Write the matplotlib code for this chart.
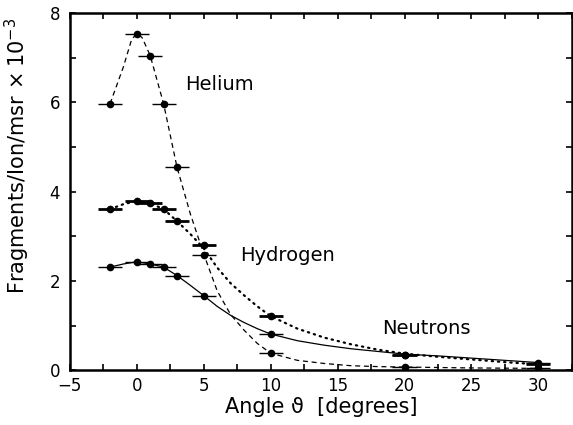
import matplotlib
matplotlib.use('Agg')
import matplotlib.pyplot as plt
from matplotlib.ticker import MultipleLocator

# measured points (angle in degrees, yield x 1e-3)
angle = [-2, 0, 1, 2, 3, 5, 10, 20, 30]
angle_err = [0.9, 0.9, 0.9, 0.9, 0.9, 0.9, 0.9, 0.9, 0.9]
helium = [5.97, 7.53, 7.05, 5.97, 4.55, 2.58, 0.38, 0.08, 0.04]
hydrogen = [3.61, 3.78, 3.74, 3.61, 3.34, 2.80, 1.21, 0.35, 0.13]
neutrons = [2.31, 2.43, 2.38, 2.31, 2.10, 1.67, 0.81, 0.35, 0.16]

# guide curves
he_curve_x = [-2, -1, -0.4, 0, 0.4, 1, 2, 3, 4, 5, 6, 7, 8, 9, 10, 12, 14, 16, 18, 20, 25, 30]
he_curve_y = [5.97, 6.8, 7.4, 7.55, 7.45, 7.05, 5.97, 4.55, 3.5, 2.6, 1.78, 1.25, 0.9, 0.6, 0.38,
              0.22, 0.15, 0.1, 0.08, 0.07, 0.05, 0.04]
curve_x = [-2, -1, 0, 1, 2, 3, 4, 5, 6, 7, 8, 9, 10, 12, 14, 16, 18, 20, 22.5, 25, 27.5, 30]
h_curve_y = [3.61, 3.72, 3.79, 3.74, 3.61, 3.34, 3.05, 2.73, 2.3, 1.95, 1.68, 1.43, 1.21,
             0.93, 0.73, 0.58, 0.46, 0.37, 0.3, 0.24, 0.18, 0.13]
n_curve_y = [2.31, 2.38, 2.43, 2.38, 2.31, 2.12, 1.9, 1.67, 1.43, 1.23, 1.07, 0.93, 0.81,
             0.66, 0.56, 0.48, 0.42, 0.36, 0.32, 0.27, 0.22, 0.17]

fig = plt.figure(figsize=(5.73, 4.25), dpi=100)
ax = fig.add_axes([0.122, 0.129, 0.876, 0.840])

# curves
ax.plot(he_curve_x, he_curve_y, color='black', lw=0.9, dashes=(4, 3))
ax.plot(curve_x, h_curve_y, color='black', lw=1.6, linestyle=(0, (0.6, 2.2)), dash_capstyle='round')
ax.plot(curve_x, n_curve_y, color='black', lw=0.9)

# data with horizontal error bars
ax.errorbar(angle, helium, xerr=angle_err, fmt='o', color='black', ms=4.5,
            elinewidth=1.0, capsize=0)
ax.errorbar(angle, hydrogen, xerr=angle_err, fmt='o', color='black', ms=4.5,
            elinewidth=2.0, capsize=0)
ax.errorbar(angle, neutrons, xerr=angle_err, fmt='o', color='black', ms=4.5,
            elinewidth=1.0, capsize=0)

ax.text(3.6, 6.4, 'Helium', fontsize=14, va='center')
ax.text(7.7, 2.56, 'Hydrogen', fontsize=14, va='center')
ax.text(18.3, 0.93, 'Neutrons', fontsize=14, va='center')

ax.set_xlim(-5, 32.5)
ax.set_ylim(0, 8)
ax.xaxis.set_major_locator(MultipleLocator(5))
ax.xaxis.set_minor_locator(MultipleLocator(2.5))
ax.yaxis.set_major_locator(MultipleLocator(2))
ax.yaxis.set_minor_locator(MultipleLocator(1))
ax.tick_params(which='both', direction='in', top=True, right=True, length=4, width=1.2,
               labelsize=12)
ax.tick_params(axis='y', pad=7)
ax.tick_params(axis='x', pad=5)
for s in ax.spines.values():
    s.set_linewidth(1.8)

ax.set_xlabel('Angle ϑ  [degrees]', fontsize=15, labelpad=1)
ax.set_ylabel('Fragments/Ion/msr$\\,\\times$10$^{-3}$', fontsize=15)
ax.yaxis.set_label_coords(-0.075, 0.6)

plt.savefig('out.png', dpi=100)
